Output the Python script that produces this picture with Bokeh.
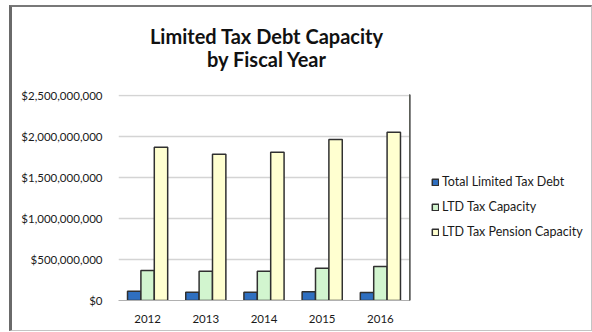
from bokeh.plotting import figure
from bokeh.layouts import row, column
from bokeh.models import (ColumnDataSource, Legend, LegendItem, Div,
                          NumeralTickFormatter, FactorRange, Range1d, FixedTicker)
from bokeh.transform import dodge
from bokeh.embed import file_html
from bokeh.resources import INLINE

years = ["2012", "2013", "2014", "2015", "2016"]
total_ltd = [113e6, 101e6, 101e6, 106e6, 98e6]
ltd_capacity = [366e6, 357e6, 357e6, 394e6, 415e6]
ltd_pension = [1870e6, 1784e6, 1809e6, 1963e6, 2053e6]
series_names = ["Total Limited Tax Debt", "LTD Tax Capacity", "LTD Tax Pension Capacity"]
y_ticks = [0, 500e6, 1000e6, 1500e6, 2000e6, 2500e6]
title_lines = ["Limited Tax Debt Capacity", "by Fiscal Year"]

FONT = "Lato"
colors = ["#2f6fc0", "#d2f5cf", "#ffffd0"]
OUTLINE = "#303030"
TEXT = "#1a1a1a"

src = ColumnDataSource(dict(years=years, a=total_ltd, b=ltd_capacity, c=ltd_pension))

p = figure(width=397, height=255, x_range=FactorRange(*years), y_range=Range1d(0, 2.512e9),
           output_backend="svg", toolbar_location=None, title=None,
           min_border_left=106, min_border_right=0, min_border_top=19, min_border_bottom=30)
p.background_fill_color = "white"
p.border_fill_color = "white"
p.outline_line_color = None

w = 0.23
p.vbar(x=dodge("years", -w, range=p.x_range), top="a", width=w, source=src,
       fill_color=colors[0], line_color=OUTLINE, line_width=1.5)
p.vbar(x=dodge("years", 0, range=p.x_range), top="b", width=w, source=src,
       fill_color=colors[1], line_color=OUTLINE, line_width=1.5)
p.vbar(x=dodge("years", w, range=p.x_range), top="c", width=w, source=src,
       fill_color=colors[2], line_color=OUTLINE, line_width=1.5)

p.yaxis.ticker = FixedTicker(ticks=y_ticks)
p.yaxis.formatter = NumeralTickFormatter(format="$0,0")
p.yaxis.axis_line_color = None
p.yaxis.major_tick_line_color = None
p.yaxis.minor_tick_line_color = None
p.yaxis.major_label_text_font = FONT
p.yaxis.major_label_text_font_size = "11.5px"
p.yaxis.major_label_text_color = TEXT
p.yaxis.major_label_standoff = 10

p.xaxis.axis_line_color = "#b0b0b0"
p.xaxis.major_tick_line_color = None
p.xaxis.minor_tick_line_color = None
p.xaxis.major_label_text_font = FONT
p.xaxis.major_label_text_font_size = "11.5px"
p.xaxis.major_label_text_color = TEXT
p.xaxis.major_label_standoff = 8

p.xgrid.grid_line_color = None
p.ygrid.grid_line_color = "#d4d4d4"
p.ygrid.grid_line_width = 1.5

# legend panel (separate figure so the legend can sit beside the plot area)
lg = figure(width=182, height=255, x_range=Range1d(0, 1), y_range=Range1d(0, 1),
            output_backend="svg", toolbar_location=None, title=None,
            min_border=0, min_border_left=0, min_border_right=0,
            min_border_top=0, min_border_bottom=0)
lg.axis.visible = False
lg.grid.visible = False
lg.outline_line_color = None
lg.background_fill_color = "white"
lg.border_fill_color = "white"
# swatch renderers: one bar each, placed outside the visible range
rs = [lg.vbar(x=[-10], top=[1], width=0.1, fill_color=c, line_color=OUTLINE, line_width=1.5)
      for c in colors]
legend = Legend(items=[LegendItem(label=n, renderers=[r]) for n, r in zip(series_names, rs)],
                location=(22, 56), border_line_color=None, background_fill_alpha=0,
                padding=5, spacing=0, label_height=25, glyph_width=8, glyph_height=8,
                label_standoff=3, label_text_font=FONT, label_text_font_size="12.5px",
                label_text_color=TEXT)
lg.add_layout(legend)

title = Div(text=('<div style="width: 509px; font-family: Lato; font-weight: bold; font-size: 20px; '
                  'line-height: 23px; text-align: center; color: #111111; padding-top: 18px;">'
                  + title_lines[0] + '<br>' + title_lines[1] + '</div>'),
            width=509, height=68, margin=0)

layout = column(title, row(p, lg, spacing=0), spacing=0)
layout.styles = {"margin-left": "9px", "margin-top": "5px", "background-color": "white",
                 "border-left": "3px solid #6a6a6a", "border-top": "2px solid #787878",
                 "border-right": "1px solid #c4c4c4", "border-bottom": "1px solid #c4c4c4"}

open("out.html", "w").write(file_html(layout, INLINE))
